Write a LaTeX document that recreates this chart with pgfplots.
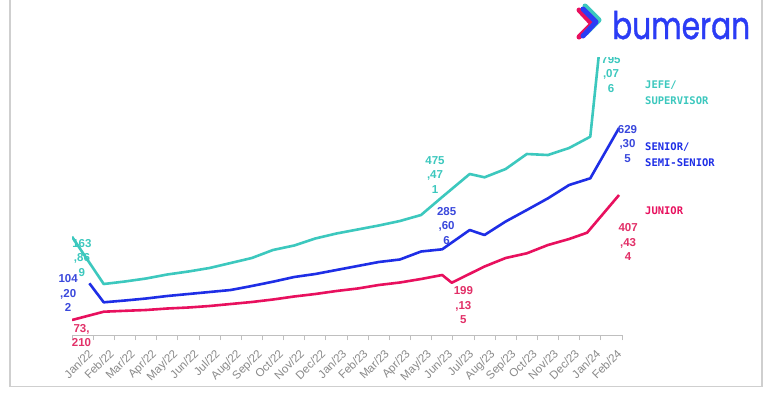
\documentclass[border=0pt]{standalone}
\usepackage{pgfplots}
\pgfplotsset{compat=1.18}
\usepackage{fontspec}
\setmainfont{Liberation Sans}
\newfontfamily\legfont{DejaVu Sans Mono}
\newfontfamily\logofont[FakeBold=1.2]{Poppins}
\definecolor{cjefe}{HTML}{3CC8BE}
\definecolor{csen}{HTML}{1E2EE6}
\definecolor{cjun}{HTML}{E8105E}
\definecolor{csenlab}{HTML}{3A48DC}
\definecolor{cjunlab}{HTML}{E23068}
\definecolor{clogo}{HTML}{2B3CF5}
\definecolor{cframe}{HTML}{CFCFCF}
\definecolor{ctick}{HTML}{8A8A8A}
\newcommand\numfont{\fontsize{11.5}{14.5}\selectfont\bfseries}
\begin{document}
\begin{tikzpicture}
\useasboundingbox (0,0) rectangle (770pt,-392pt);
\fill[white] (0,0) rectangle (770pt,-392pt);
\draw[cframe, line width=1.5pt] (10pt,0) -- (10pt,-386.5pt) -- (762pt,-386.5pt) -- (762pt,0);
\begin{axis}[
  at={(72pt,-335pt)}, anchor=south west,
  scale only axis, width=550pt, height=278pt,
  xmin=-0.5, xmax=25.5, ymin=0, ymax=278,
  axis y line=none, axis x line*=bottom,
  axis line style={ctick!55, line width=1pt},
  ytick=\empty,
  xtick={0,...,25},
  xticklabels={Jan/22,Feb/22,Mar/22,Apr/22,May/22,Jun/22,Jul/22,Aug/22,Sep/22,Oct/22,Nov/22,Dec/22,Jan/23,Feb/23,Mar/23,Apr/23,May/23,Jun/23,Jul/23,Aug/23,Sep/23,Oct/23,Nov/23,Dec/23,Jan/24,Feb/24},
  major tick length=0pt,
  minor xtick={-0.5,0.5,...,25.5},
  minor tick length=5pt, tick align=outside,
  minor tick style={ctick!55, line width=0.8pt},
  xticklabel style={rotate=45, anchor=north east, font=\fontsize{11.5}{13}\selectfont, text=ctick, inner sep=1pt, yshift=-12pt, xshift=-5pt},
  clip mode=individual,
]
% JEFE / SUPERVISOR
\addplot[cjefe, line width=2.6pt, line join=round] coordinates {
(-0.5,98.3) (1,51) (2,53.5) (3,56.5) (4,60.5) (5,63.5) (6,67) (7,72) (8,77) (9,85)
(10,89.5) (11,96.5) (12,101.5) (13,105.5) (14,109.5) (15,114) (16,120) (17,138)
(18.3,161) (19,157.7) (20,166) (21,181) (22,180) (23,187) (24,198.3) (25,400)};
% SENIOR / SEMI-SENIOR
\addplot[csen, line width=2.6pt, line join=round] coordinates {
(0.32,51.7) (1,32.7) (2,34.5) (3,36.5) (4,39) (5,41) (6,43) (7,45) (8,49) (9,53.3)
(10,58) (11,61) (12,65) (13,69) (14,73) (15,75.5) (16,83.5) (17,85.7)
(18.3,105) (19,100) (20,113.5) (21,125) (22,136.7) (23,150) (24,156.7) (25.36,207)};
% JUNIOR
\addplot[cjun, line width=2.6pt, line join=round] coordinates {
(-0.5,15) (1,23.3) (2,24.2) (3,25) (4,26.5) (5,27.5) (6,29) (7,31) (8,33) (9,35.5)
(10,38.5) (11,41) (12,44) (13,46.5) (14,50) (15,52.5) (16,56) (17,60)
(17.45,52.3) (19,68.5) (20,77) (21,81.7) (22,90) (23,96) (23.85,102.3) (25.36,140)};
% value labels
\node[font=\numfont, text=cjefe, align=center] at (axis cs:-0.03,77) {163\\,86\\9};
\node[font=\numfont, text=csenlab, align=center] at (axis cs:-0.68,42) {104\\,20\\2};
\node[font=\numfont, text=cjunlab, align=center] at (axis cs:-0.05,-0.5) {73,\\210};
\node[font=\numfont, text=cjefe, align=center] at (axis cs:16.66,160) {475\\,47\\1};
\node[font=\numfont, text=csenlab, align=center] at (axis cs:17.21,109) {285\\,60\\6};
\node[font=\numfont, text=cjunlab, align=center] at (axis cs:18.0,29.5) {199\\,13\\5};
\node[font=\numfont, text=cjefe, align=center] at (axis cs:24.98,261) {795\\,07\\6};
\node[font=\numfont, text=csenlab, align=center] at (axis cs:25.76,191) {629\\,30\\5};
\node[font=\numfont, text=cjunlab, align=center] at (axis cs:25.79,92.7) {407\\,43\\4};
\end{axis}
% legend labels
\node[anchor=west, text=cjefe, font=\legfont\bfseries\fontsize{10.5}{15.7}\selectfont, align=left, inner sep=0] at (645pt,-92.8pt) {JEFE/\\SUPERVISOR};
\node[anchor=west, text=csen, font=\legfont\bfseries\fontsize{10.5}{15.7}\selectfont, align=left, inner sep=0] at (645pt,-155pt) {SENIOR/\\SEMI-SENIOR};
\node[anchor=west, text=cjun, font=\legfont\bfseries\fontsize{10.5}{15.7}\selectfont, align=left, inner sep=0] at (645pt,-210.7pt) {JUNIOR};
% logo area
\fill[white] (560pt,0) rectangle (761pt,-56.5pt);
\draw[cjun, line width=5pt, line cap=round, line join=round] (579pt,-10pt) -- (592pt,-24pt) -- (579pt,-37pt);
\draw[cjefe, line width=5pt, line cap=round, line join=round] (585pt,-6pt) -- (599pt,-20pt) -- (586pt,-33pt);
\draw[clogo, line width=5pt, line cap=round, line join=round] (583pt,-9pt) -- (596pt,-22pt) -- (583pt,-36pt);
\node[anchor=base west, inner sep=0, text=clogo, font=\logofont\fontsize{38}{38}\selectfont, xscale=0.78] at (612pt,-39pt) {bumeran};
\end{tikzpicture}
\end{document}
